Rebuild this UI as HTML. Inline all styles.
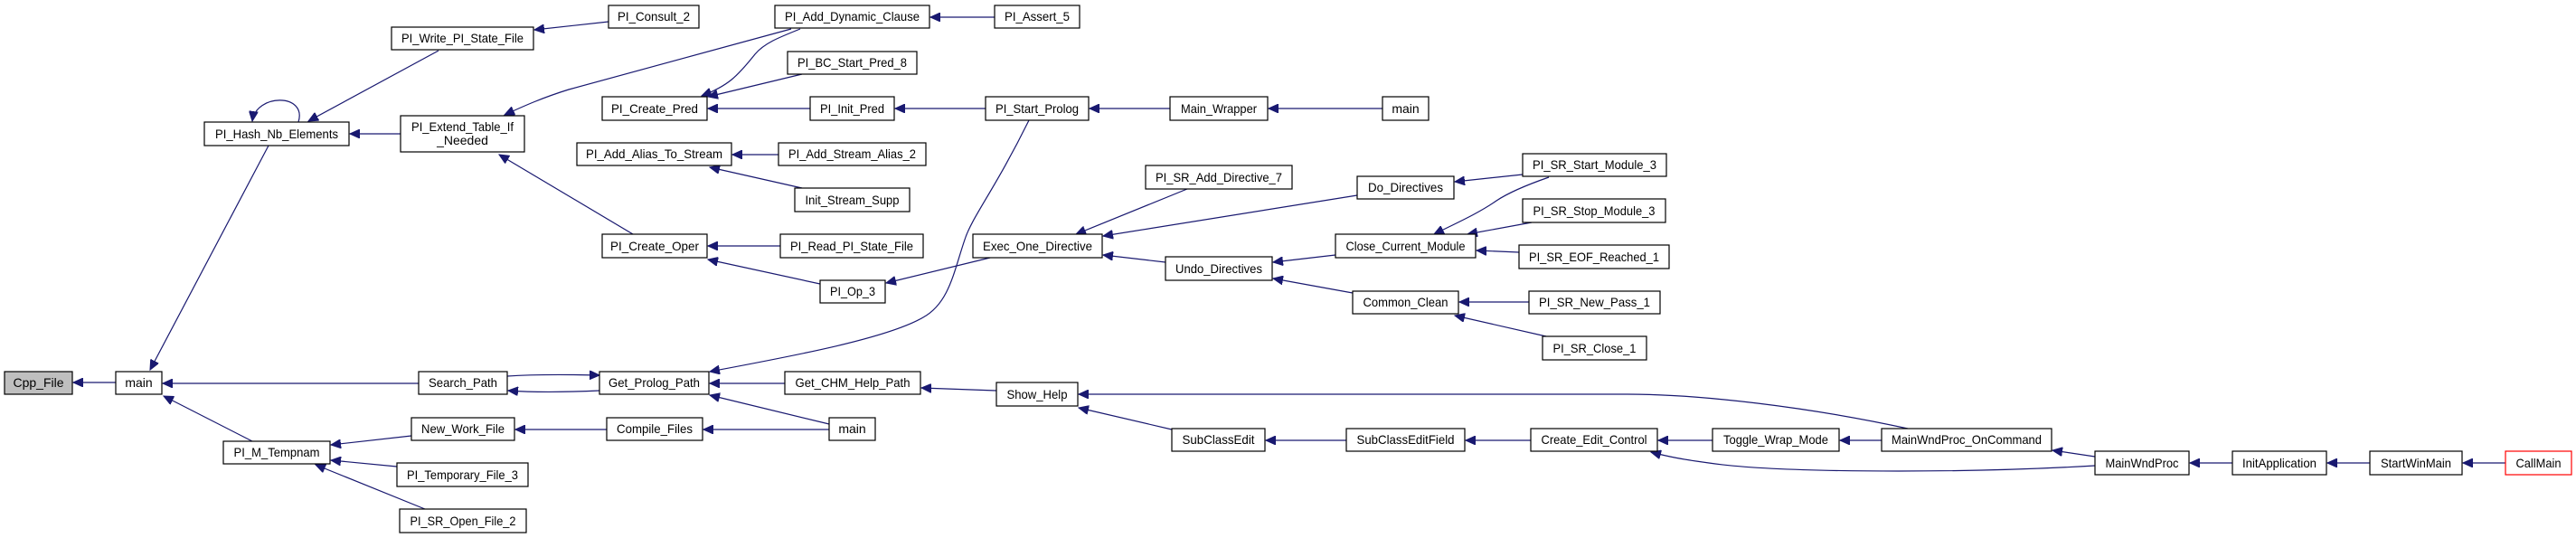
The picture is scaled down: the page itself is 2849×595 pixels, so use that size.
<!DOCTYPE html>
<html><head><meta charset="utf-8"><style>
html,body{margin:0;padding:0;background:#fff;}
svg{display:block;}
text{font-family:"Liberation Sans",sans-serif;font-size:14px;fill:#000;}
rect{fill:#fff;stroke:#000;stroke-width:1.2;}
.e{fill:none;stroke:#191970;stroke-width:1.2;}
</style></head><body>
<svg width="2849" height="595" viewBox="0 0 2849 595" xmlns="http://www.w3.org/2000/svg">
<defs>
<marker id="a" markerWidth="12" markerHeight="10" refX="11" refY="5" orient="auto" markerUnits="userSpaceOnUse">
<path d="M0,0 L11,5 L0,10 Z" fill="#191970" stroke="#191970"/>
</marker>
</defs>
<g marker-end="url(#a)">
<path class="e" d="M128,423 L81,423"/>
<path class="e" d="M297,161 L166,409"/>
<path class="e" d="M279,488 L181,438"/>
<path class="e" d="M463,424 L180,424"/>
<path class="e" d="M330,135 C340,103 283,103 279,134"/>
<path class="e" d="M485,56 L341,134"/>
<path class="e" d="M443,148 L387,148"/>
<path class="e" d="M673,24 L591,33"/>
<path class="e" d="M1100,19 L1029,19"/>
<path class="e" d="M875,32 C800,52 700,80 629,99 C600,108 580,117 558,127"/>
<path class="e" d="M885,32 C860,42 845,48 835,60 C815,85 805,95 776,106"/>
<path class="e" d="M887,82 L783,107"/>
<path class="e" d="M896,120 L783,120"/>
<path class="e" d="M1090,120 L990,120"/>
<path class="e" d="M1294,120 L1205,120"/>
<path class="e" d="M1529,120 L1403,120"/>
<path class="e" d="M861,171 L810,171"/>
<path class="e" d="M887,208 L785,185"/>
<path class="e" d="M700,259 L552,171"/>
<path class="e" d="M863,272 L783,272"/>
<path class="e" d="M907,314 L783,287"/>
<path class="e" d="M1095,285 L980,313"/>
<path class="e" d="M1138,133 C1100,210 1075,240 1067,265 C1055,300 1050,335 1021,351 C980,375 870,395 785,411"/>
<path class="e" d="M561,416 C590,414 620,414 663,415"/>
<path class="e" d="M663,432 C620,434 590,434 562,432"/>
<path class="e" d="M868,424 L785,424"/>
<path class="e" d="M917,469 L785,437"/>
<path class="e" d="M917,475 L778,475"/>
<path class="e" d="M671,475 L570,475"/>
<path class="e" d="M455,482 L366,492"/>
<path class="e" d="M439,516 L366,509"/>
<path class="e" d="M470,563 L349,514"/>
<path class="e" d="M1313,209 L1190,259"/>
<path class="e" d="M1501,216 L1220,261"/>
<path class="e" d="M1289,290 L1220,282"/>
<path class="e" d="M1477,282 L1408,290"/>
<path class="e" d="M1496,324 L1408,308"/>
<path class="e" d="M1684,193 L1609,201"/>
<path class="e" d="M1713,196 C1690,204 1670,212 1655,222 C1635,236 1610,247 1586,259"/>
<path class="e" d="M1694,246 L1623,259"/>
<path class="e" d="M1680,279 L1633,277"/>
<path class="e" d="M1691,334 L1614,334"/>
<path class="e" d="M1710,372 L1609,349"/>
<path class="e" d="M1102,432 L1019,429"/>
<path class="e" d="M2110,474 C2000,450 1880,436 1800,436 L1193,436"/>
<path class="e" d="M1296,475 L1193,451"/>
<path class="e" d="M1489,487 L1400,487"/>
<path class="e" d="M1693,487 L1621,487"/>
<path class="e" d="M1894,487 L1834,487"/>
<path class="e" d="M2081,487 L2035,487"/>
<path class="e" d="M2317,515 C2250,519 2180,521 2100,521 C2000,521 1930,518 1890,512 C1860,508 1845,505 1826,500"/>
<path class="e" d="M2317,505 L2270,498"/>
<path class="e" d="M2469,512 L2422,512"/>
<path class="e" d="M2621,512 L2574,512"/>
<path class="e" d="M2771,512 L2724,512"/>
</g>
<g text-anchor="middle">
<rect x="5" y="411" width="75" height="25" style="fill:#bfbfbf"/><text x="42.5" y="428">Cpp_File</text>
<rect x="128" y="411" width="51" height="25"/><text x="153.5" y="428">main</text>
<rect x="226" y="135" width="160" height="26"/><text x="306" y="153" textLength="136" lengthAdjust="spacingAndGlyphs">PI_Hash_Nb_Elements</text>
<rect x="433" y="30" width="157" height="25"/><text x="511.5" y="47" textLength="135" lengthAdjust="spacingAndGlyphs">PI_Write_PI_State_File</text>
<rect x="673" y="6" width="100" height="25"/><text x="723" y="23" textLength="80" lengthAdjust="spacingAndGlyphs">PI_Consult_2</text>
<rect x="443" y="128" width="137" height="40"/><text x="511.5" y="145" textLength="113" lengthAdjust="spacingAndGlyphs">PI_Extend_Table_If</text><text x="511.5" y="160">_Needed</text>
<rect x="666" y="107" width="116" height="26"/><text x="724" y="125" textLength="96" lengthAdjust="spacingAndGlyphs">PI_Create_Pred</text>
<rect x="638" y="158" width="171" height="25"/><text x="723.5" y="175" textLength="151" lengthAdjust="spacingAndGlyphs">PI_Add_Alias_To_Stream</text>
<rect x="666" y="259" width="116" height="26"/><text x="724" y="277" textLength="98" lengthAdjust="spacingAndGlyphs">PI_Create_Oper</text>
<rect x="463" y="411" width="98" height="25"/><text x="512" y="428" textLength="76" lengthAdjust="spacingAndGlyphs">Search_Path</text>
<rect x="663" y="411" width="121" height="25"/><text x="723.5" y="428" textLength="101" lengthAdjust="spacingAndGlyphs">Get_Prolog_Path</text>
<rect x="455" y="462" width="114" height="25"/><text x="512" y="479" textLength="92" lengthAdjust="spacingAndGlyphs">New_Work_File</text>
<rect x="671" y="462" width="106" height="25"/><text x="724" y="479" textLength="84" lengthAdjust="spacingAndGlyphs">Compile_Files</text>
<rect x="247" y="488" width="118" height="25"/><text x="306" y="505" textLength="95" lengthAdjust="spacingAndGlyphs">PI_M_Tempnam</text>
<rect x="439" y="512" width="145" height="26"/><text x="511.5" y="530" textLength="123" lengthAdjust="spacingAndGlyphs">PI_Temporary_File_3</text>
<rect x="442" y="563" width="140" height="26"/><text x="512" y="581" textLength="117" lengthAdjust="spacingAndGlyphs">PI_SR_Open_File_2</text>
<rect x="857" y="6" width="171" height="25"/><text x="942.5" y="23" textLength="149" lengthAdjust="spacingAndGlyphs">PI_Add_Dynamic_Clause</text>
<rect x="1100" y="6" width="94" height="25"/><text x="1147" y="23" textLength="72" lengthAdjust="spacingAndGlyphs">PI_Assert_5</text>
<rect x="871" y="57" width="143" height="25"/><text x="942.5" y="74" textLength="121" lengthAdjust="spacingAndGlyphs">PI_BC_Start_Pred_8</text>
<rect x="896" y="107" width="93" height="26"/><text x="942.5" y="125" textLength="71" lengthAdjust="spacingAndGlyphs">PI_Init_Pred</text>
<rect x="1090" y="107" width="114" height="26"/><text x="1147" y="125" textLength="92" lengthAdjust="spacingAndGlyphs">PI_Start_Prolog</text>
<rect x="1294" y="107" width="108" height="26"/><text x="1348" y="125" textLength="84" lengthAdjust="spacingAndGlyphs">Main_Wrapper</text>
<rect x="1529" y="107" width="51" height="26"/><text x="1554.5" y="125">main</text>
<rect x="861" y="158" width="163" height="25"/><text x="942.5" y="175" textLength="141" lengthAdjust="spacingAndGlyphs">PI_Add_Stream_Alias_2</text>
<rect x="879" y="208" width="127" height="26"/><text x="942.5" y="226" textLength="104" lengthAdjust="spacingAndGlyphs">Init_Stream_Supp</text>
<rect x="1267" y="183" width="162" height="26"/><text x="1348" y="201" textLength="140" lengthAdjust="spacingAndGlyphs">PI_SR_Add_Directive_7</text>
<rect x="863" y="259" width="158" height="26"/><text x="942" y="277" textLength="136" lengthAdjust="spacingAndGlyphs">PI_Read_PI_State_File</text>
<rect x="1076" y="259" width="143" height="26"/><text x="1147.5" y="277" textLength="121" lengthAdjust="spacingAndGlyphs">Exec_One_Directive</text>
<rect x="1289" y="284" width="118" height="26"/><text x="1348" y="302" textLength="96" lengthAdjust="spacingAndGlyphs">Undo_Directives</text>
<rect x="907" y="310" width="72" height="25"/><text x="943" y="327" textLength="50" lengthAdjust="spacingAndGlyphs">PI_Op_3</text>
<rect x="868" y="411" width="150" height="25"/><text x="943" y="428" textLength="127" lengthAdjust="spacingAndGlyphs">Get_CHM_Help_Path</text>
<rect x="1102" y="423" width="90" height="26"/><text x="1147" y="441" textLength="67" lengthAdjust="spacingAndGlyphs">Show_Help</text>
<rect x="917" y="462" width="51" height="25"/><text x="942.5" y="479">main</text>
<rect x="1296" y="474" width="103" height="25"/><text x="1347.5" y="491" textLength="80" lengthAdjust="spacingAndGlyphs">SubClassEdit</text>
<rect x="1684" y="170" width="159" height="25"/><text x="1763.5" y="187" textLength="137" lengthAdjust="spacingAndGlyphs">PI_SR_Start_Module_3</text>
<rect x="1501" y="195" width="107" height="25"/><text x="1554.5" y="212" textLength="83" lengthAdjust="spacingAndGlyphs">Do_Directives</text>
<rect x="1684" y="220" width="158" height="26"/><text x="1763" y="238" textLength="135" lengthAdjust="spacingAndGlyphs">PI_SR_Stop_Module_3</text>
<rect x="1477" y="259" width="155" height="26"/><text x="1554.5" y="277" textLength="132" lengthAdjust="spacingAndGlyphs">Close_Current_Module</text>
<rect x="1680" y="271" width="166" height="26"/><text x="1763" y="289" textLength="144" lengthAdjust="spacingAndGlyphs">PI_SR_EOF_Reached_1</text>
<rect x="1496" y="322" width="117" height="25"/><text x="1554.5" y="339" textLength="94" lengthAdjust="spacingAndGlyphs">Common_Clean</text>
<rect x="1691" y="322" width="145" height="25"/><text x="1763.5" y="339" textLength="123" lengthAdjust="spacingAndGlyphs">PI_SR_New_Pass_1</text>
<rect x="1706" y="372" width="115" height="26"/><text x="1763.5" y="390" textLength="92" lengthAdjust="spacingAndGlyphs">PI_SR_Close_1</text>
<rect x="1489" y="474" width="131" height="25"/><text x="1554.5" y="491" textLength="108" lengthAdjust="spacingAndGlyphs">SubClassEditField</text>
<rect x="1693" y="474" width="140" height="25"/><text x="1763" y="491" textLength="117" lengthAdjust="spacingAndGlyphs">Create_Edit_Control</text>
<rect x="1894" y="474" width="140" height="25"/><text x="1964" y="491" textLength="116" lengthAdjust="spacingAndGlyphs">Toggle_Wrap_Mode</text>
<rect x="2081" y="474" width="188" height="25"/><text x="2175" y="491" textLength="166" lengthAdjust="spacingAndGlyphs">MainWndProc_OnCommand</text>
<rect x="2317" y="499" width="104" height="26"/><text x="2369" y="517" textLength="81" lengthAdjust="spacingAndGlyphs">MainWndProc</text>
<rect x="2469" y="499" width="104" height="26"/><text x="2521" y="517" textLength="82" lengthAdjust="spacingAndGlyphs">InitApplication</text>
<rect x="2621" y="499" width="102" height="26"/><text x="2672" y="517" textLength="78" lengthAdjust="spacingAndGlyphs">StartWinMain</text>
<rect x="2771" y="499" width="73" height="26" style="stroke:#ff0000"/><text x="2807.5" y="517" textLength="50" lengthAdjust="spacingAndGlyphs">CallMain</text>
</g>
</svg>
</body></html>
